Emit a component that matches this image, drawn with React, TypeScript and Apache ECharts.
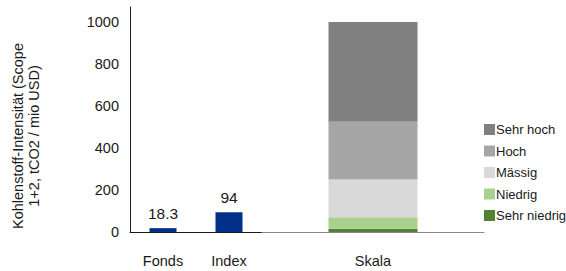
import React, { useEffect, useRef } from "react";
import * as echarts from "echarts";

const FONT = "'Liberation Sans', Arial, sans-serif";

const leftCategories = ["Fonds", "Index"];
const leftValues = [18.3, 94];
const rightCategories = ["Skala"];
const scaleNames = ["Sehr niedrig", "Niedrig", "Mässig", "Hoch", "Sehr hoch"];
const scaleValues = [15, 55, 180, 275, 475];
const scaleColors = ["#548235", "#a9d18e", "#d9d9d9", "#a6a6a6", "#808080"];
const legendOrder = ["Sehr hoch", "Hoch", "Mässig", "Niedrig", "Sehr niedrig"];
const yTicks = [0, 200, 400, 600, 800, 1000];
const yAxisTitle = "Kohlenstoff-Intensität (Scope\n1+2, tCO2 / mio USD)";

export default function App() {
  const ref = useRef<HTMLDivElement>(null);
  useEffect(() => {
    if (!ref.current) return;
    const chart = echarts.init(ref.current, undefined, { renderer: "svg" });
    const yMax = 1071.4;
    const option: any = {
      animation: false,
      textStyle: { fontFamily: FONT },
      grid: [
        { left: 130, top: 7, width: 132, height: 225 },
        { left: 262, top: 7, width: 222, height: 225 },
      ],
      xAxis: [
        {
          type: "category",
          gridIndex: 0,
          data: leftCategories,
          axisLine: { lineStyle: { color: "#1a1a1a", width: 1 } },
          axisTick: { show: false },
          axisLabel: { color: "#1a1a1a", fontSize: 14.5, margin: 21, fontFamily: FONT },
        },
        {
          type: "category",
          gridIndex: 1,
          data: rightCategories,
          axisLine: { lineStyle: { color: "#888888", width: 1.2 } },
          axisTick: { show: false },
          axisLabel: { color: "#1a1a1a", fontSize: 14.5, margin: 21, fontFamily: FONT },
        },
      ],
      yAxis: [
        {
          type: "value",
          gridIndex: 0,
          min: 0,
          max: yMax,
          interval: 200,
          splitLine: { show: false },
          axisLine: { show: true, lineStyle: { color: "#1a1a1a", width: 1 } },
          axisTick: { show: false },
          axisLabel: {
            color: "#1a1a1a",
            fontSize: 14.5,
            margin: 11,
            fontFamily: FONT,
            formatter: (v: number) => (yTicks.includes(v) ? String(v) : ""),
          },
        },
        {
          type: "value",
          gridIndex: 1,
          min: 0,
          max: yMax,
          show: false,
          splitLine: { show: false },
        },
      ],
      legend: {
        orient: "vertical",
        left: 484,
        top: 123,
        padding: 0,
        itemWidth: 11,
        itemHeight: 11,
        itemGap: 8.5,
        icon: "rect",
        data: legendOrder,
        textStyle: { fontSize: 13, color: "#1a1a1a", fontFamily: FONT, padding: [0, 0, 0, -4], lineHeight: 13 },
      },
      graphic: [
        {
          type: "text",
          x: 26,
          y: 136,
          rotation: Math.PI / 2,
          style: {
            text: yAxisTitle,
            fontSize: 14.5,
            fontFamily: FONT,
            fill: "#1a1a1a",
            textAlign: "center",
            textVerticalAlign: "middle",
            lineHeight: 16,
          },
        },
      ],
      series: [
        {
          type: "bar",
          xAxisIndex: 0,
          yAxisIndex: 0,
          data: leftValues,
          barWidth: 27,
          itemStyle: { color: "#002f87" },
          label: {
            show: true,
            position: "top",
            distance: 7,
            fontSize: 15.5,
            color: "#1a1a1a",
            fontFamily: FONT,
          },
        },
        ...scaleNames.map((name, i) => ({
          type: "bar",
          name,
          xAxisIndex: 1,
          yAxisIndex: 1,
          stack: "scale",
          data: [scaleValues[i]],
          barWidth: 89,
          itemStyle: { color: scaleColors[i] },
        })),
      ],
    };
    chart.setOption(option);
    return () => chart.dispose();
  }, []);
  return (
    <div
      ref={ref}
      style={{ position: "fixed", left: 0, top: 0, width: 566, height: 271, background: "#fff" }}
    />
  );
}
